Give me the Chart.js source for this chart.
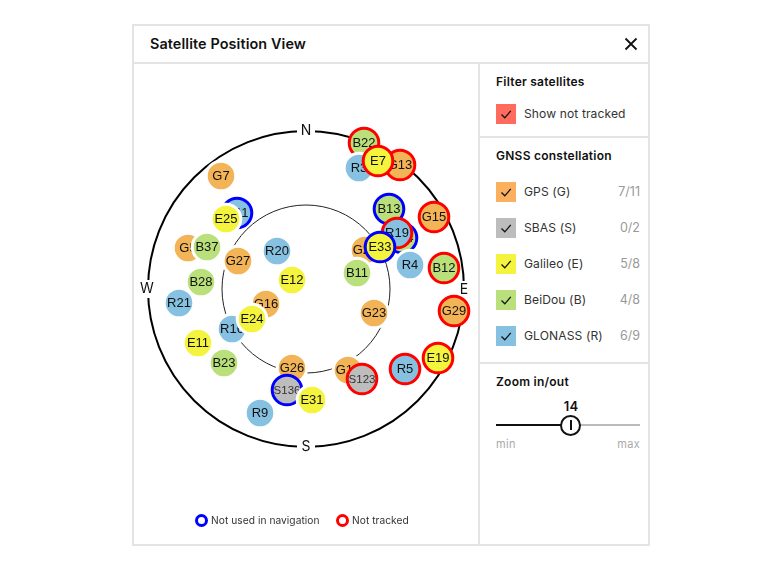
<!DOCTYPE html>
<html>
<head>
<meta charset="utf-8">
<title>Satellite Position View</title>
<script src="https://cdn.jsdelivr.net/npm/chart.js@4"></script>
<style>
    html, body { margin: 0; padding: 0; background: #fff; }
    body { width: 784px; height: 570px; position: relative; overflow: hidden; font-family: Inter, sans-serif; color: #222; }
    .abs { position: absolute; white-space: nowrap; line-height: 16px; }
    .rule { position: absolute; background: #e4e4e4; }
    .head { font-weight: 600; font-size: 12px; letter-spacing: 0.25px; color: #111; }
    .row { font-size: 12.1px; letter-spacing: 0.1px; color: #333; }
    .count { font-size: 12.5px; color: #999; width: 50px; text-align: right; }
    .box { position: absolute; width: 20px; height: 20px; }
    #sky { position: absolute; left: 134px; top: 65px; }
    .ring { position: absolute; width: 7px; height: 7px; border-radius: 50%; border: 3px solid; }
    .note { font-size: 10.2px; letter-spacing: 0.05px; color: #333; }
</style>
</head>
<body>
<div class="rule" style="left:132px;top:24px;width:518px;height:2px"></div>
<div class="rule" style="left:132px;top:544px;width:518px;height:2px"></div>
<div class="rule" style="left:132px;top:24px;width:2px;height:522px"></div>
<div class="rule" style="left:648px;top:24px;width:2px;height:522px"></div>
<div class="rule" style="left:132px;top:62px;width:518px;height:2px"></div>
<div class="rule" style="left:478px;top:62px;width:2px;height:484px"></div>
<div class="rule" style="left:478px;top:136px;width:172px;height:2px"></div>
<div class="rule" style="left:478px;top:362px;width:172px;height:2px"></div>

<div class="abs" style="left:150px;top:36px;font-weight:600;font-size:14.4px;letter-spacing:0.1px;color:#111">Satellite Position View</div>
<svg class="abs" style="left:624px;top:37px" width="14" height="14"><path d="M1.5 1.5L12.5 12.5M12.5 1.5L1.5 12.5" stroke="#111" stroke-width="1.8"/></svg>

<canvas id="sky" width="344" height="479"></canvas>

<div class="ring" style="left:195px;top:514px;border-color:#0000ff"></div>
<div class="abs note" style="left:211px;top:512px">Not used in navigation</div>
<div class="ring" style="left:336px;top:514px;border-color:#ff0000"></div>
<div class="abs note" style="left:352px;top:512px">Not tracked</div>

<div id="side"></div>

<script>
// skyplot positions, units east / north from the zenith (outer circle = 158)
const gpsLabels = ["G7", "G5", "G27", "G16", "G26", "G18", "G23", "G29", "G15", "G13", "G21"];
const gpsEast = [-85, -118, -68, -40, -14, 42, 68, 148, 128, 94, 59];
const gpsNorth = [113, 41, 28, -15, -79, -81, -24, -22, 72, 124, 39];
const gpsState = ["", "", "", "", "", "", "", "lost", "lost", "lost", ""];

const sbasLabels = ["S136", "S123"];
const sbasEast = [-19, 56];
const sbasNorth = [-101, -90];
const sbasState = ["unused", "lost"];

const beidouLabels = ["B22", "B13", "B14", "B11", "B12", "B37", "B28", "B23"];
const beidouEast = [58, 83, 96, 51, 138, -99, -105, -82];
const beidouNorth = [146, 80, 51, 16, 21, 42, 7, -74];
const beidouState = ["lost", "unused", "unused", "", "lost", "", "", ""];

const glonassLabels = ["R20", "R11", "R21", "R16", "R9", "R5", "R4", "R19", "R3"];
const glonassEast = [-29, -69, -127, -74, -46, 99, 104, 91, 53];
const glonassNorth = [38, 76, -14, -40, -124, -80, 24, 56, 121];
const glonassState = ["", "unused", "", "", "", "lost", "", "lost", ""];

const galileoLabels = ["E25", "E12", "E24", "E11", "E31", "E19", "E7", "E33"];
const galileoEast = [-80, -14, -54, -108, 6, 132, 72, 74];
const galileoNorth = [70, 9, -30, -54, -111, -69, 128, 42];
const galileoState = ["", "", "", "", "", "lost", "lost", "unused"];

const compassLabels = ["N", "E", "S", "W"];
const compassEast = [0, 158, 0, -159];
const compassNorth = [158, -1, -158, 0];
const circleRadii = [158, 84];

const filterRows = ["GPS (G)", "SBAS (S)", "Galileo (E)", "BeiDou (B)", "GLONASS (R)"];
const filterCounts = ["7/11", "0/2", "5/8", "4/8", "6/9"];
const zoomValue = "14";

const colors = { G: "#f2b457", S: "#bdbdbd", E: "#f4f43f", B: "#b9e07a", R: "#86c1e1" };
const boxColors = ["#fbb05f", "#bdbdbd", "#f4f43f", "#b9e07a", "#86c1e1"];
const stateColors = { lost: "#ff0000", unused: "#0000ff" };

// later constellations sit on top of earlier ones
const groups = [
    [gpsLabels, gpsEast, gpsNorth, gpsState],
    [sbasLabels, sbasEast, sbasNorth, sbasState],
    [beidouLabels, beidouEast, beidouNorth, beidouState],
    [glonassLabels, glonassEast, glonassNorth, glonassState],
    [galileoLabels, galileoEast, galileoNorth, galileoState],
];

const datasets = [];
groups.forEach(([labels, east, north, state]) => {
    labels.forEach((label, i) => {
        datasets.push({
            label: label,
            data: [{ x: east[i], y: north[i] }],
            backgroundColor: colors[label[0]],
            borderColor: stateColors[state[i]] || "#ffffff",
            borderWidth: 3,
            radius: 14.8,
            hoverRadius: 14.8,
        });
    });
});
datasets.forEach((d, i) => { d.order = datasets.length - i; });

const skyFrame = {
    id: "skyFrame",
    beforeDatasetsDraw(chart) {
        const { ctx, scales: { x, y } } = chart;
        const cx = x.getPixelForValue(0);
        const cy = y.getPixelForValue(0);
        ctx.save();
        circleRadii.forEach((r, i) => {
            ctx.beginPath();
            ctx.arc(cx, cy, x.getPixelForValue(r) - cx, 0, Math.PI * 2);
            ctx.lineWidth = i === 0 ? 2 : 1;
            ctx.strokeStyle = i === 0 ? "#000" : "#222";
            ctx.stroke();
        });
        ctx.font = "14px Inter";
        ctx.textAlign = "center";
        ctx.textBaseline = "middle";
        compassLabels.forEach((label, i) => {
            const px = x.getPixelForValue(compassEast[i]);
            const py = y.getPixelForValue(compassNorth[i]);
            ctx.fillStyle = "#fff";
            ctx.fillRect(px - 9, py - 9, 18, 18);
            ctx.fillStyle = "#111";
            ctx.fillText(label, px, py);
        });
        ctx.restore();
    },
    // label goes with its own dataset so the next circle can cover it
    afterDatasetDraw(chart, args) {
        const { ctx } = chart;
        const label = chart.data.datasets[args.index].label;
        const pt = args.meta.data[0];
        ctx.save();
        ctx.font = label[0] === "S" ? "11.5px 'Liberation Sans'" : "13px 'Liberation Sans'";
        ctx.fillStyle = label[0] === "S" ? "#333" : "#111";
        ctx.textAlign = "center";
        ctx.textBaseline = "middle";
        ctx.fillText(label, pt.x, pt.y + 0.5);
        ctx.restore();
    },
};

new Chart(document.getElementById("sky"), {
    type: "scatter",
    data: { datasets: datasets },
    options: {
        responsive: false,
        animation: false,
        events: [],
        layout: { padding: 0, autoPadding: false },
        plugins: { legend: { display: false }, tooltip: { enabled: false } },
        scales: {
            x: { display: false, min: -172, max: 172 },
            y: { display: false, min: -255, max: 224 },
        },
    },
    plugins: [skyFrame],
});

// side panel
const check = '<svg width="20" height="20" style="display:block"><path d="M5.5 10.5L8.8 13.8L14.8 6.8" fill="none" stroke="#111" stroke-width="1.3"/></svg>';
let side = "";
side += '<div class="abs head" style="left:496px;top:74px">Filter satellites</div>';
side += '<div class="box" style="left:496px;top:104px;background:#ff6b5c">' + check + "</div>";
side += '<div class="abs row" style="left:524px;top:106px">Show not tracked</div>';
side += '<div class="abs head" style="left:496px;top:148px">GNSS constellation</div>';
filterRows.forEach((name, i) => {
    const top = 182 + i * 36;
    side += '<div class="box" style="left:496px;top:' + top + "px;background:" + boxColors[i] + '">' + check + "</div>";
    side += '<div class="abs row" style="left:524px;top:' + (top + 2) + 'px">' + name + "</div>";
    side += '<div class="abs count" style="left:590px;top:' + (top + 2) + 'px">' + filterCounts[i] + "</div>";
});
side += '<div class="abs head" style="left:496px;top:374px">Zoom in/out</div>';
side += '<div class="abs head" style="left:551px;top:398px;width:40px;text-align:center;font-size:13px">' + zoomValue + "</div>";
side += '<div class="rule" style="left:570px;top:424px;width:70px;height:2px;background:#bbb"></div>';
side += '<div class="rule" style="left:496px;top:424px;width:74px;height:2px;background:#111"></div>';
side += '<div class="abs" style="left:560px;top:415px;width:17px;height:17px;border:2px solid #111;border-radius:50%;background:#fff"></div>';
side += '<div class="rule" style="left:570px;top:420px;width:1.5px;height:10px;background:#111"></div>';
side += '<div class="abs" style="left:496px;top:436px;font-size:11px;letter-spacing:.3px;color:#aaa">min</div>';
side += '<div class="abs" style="left:590px;top:436px;width:50px;text-align:right;font-size:11px;letter-spacing:.3px;color:#aaa">max</div>';
document.getElementById("side").innerHTML = side;
</script>
</body>
</html>
